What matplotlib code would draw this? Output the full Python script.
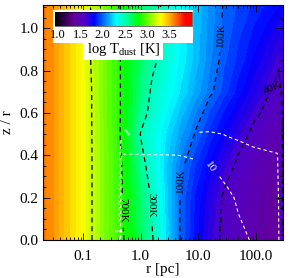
import numpy as np
import matplotlib.pyplot as plt
from matplotlib.colors import LinearSegmentedColormap, Normalize
from matplotlib.patches import Polygon
from matplotlib.ticker import AutoMinorLocator
import matplotlib.cm as cm

plt.rcParams['font.family'] = ['Liberation Serif', 'DejaVu Serif']
plt.rcParams['mathtext.fontset'] = 'custom'
plt.rcParams['mathtext.rm'] = 'Liberation Serif'
plt.rcParams['mathtext.it'] = 'Liberation Serif:italic'

# dust temperature, log10 T [K]
log_r = np.array([-1.7, -1.3, -0.9, -0.6, -0.3, 0.0, 0.2, 0.45, 0.7, 0.95,
                  1.2, 1.45, 1.7, 1.95, 2.2, 2.4, 2.48])
z_over_r = np.array([0.0, 0.2, 0.35, 0.5, 0.6, 0.7, 0.85, 1.11])
log_T = np.array([
    [3.62, 3.42, 3.20, 3.02, 2.85, 2.63, 2.49, 2.23, 1.98, 1.82, 1.66, 1.57, 1.51, 1.45, 1.40, 1.35, 1.64],
    [3.62, 3.42, 3.20, 3.02, 2.83, 2.61, 2.45, 2.21, 1.98, 1.84, 1.70, 1.58, 1.52, 1.47, 1.41, 1.36, 1.64],
    [3.62, 3.42, 3.20, 3.02, 2.82, 2.54, 2.38, 2.20, 2.02, 1.90, 1.78, 1.66, 1.57, 1.51, 1.45, 1.40, 1.64],
    [3.62, 3.42, 3.20, 3.01, 2.79, 2.47, 2.37, 2.24, 2.11, 1.99, 1.88, 1.77, 1.66, 1.57, 1.50, 1.45, 1.64],
    [3.62, 3.42, 3.20, 3.00, 2.80, 2.54, 2.42, 2.29, 2.17, 2.05, 1.94, 1.84, 1.74, 1.64, 1.56, 1.50, 1.64],
    [3.62, 3.42, 3.20, 3.00, 2.80, 2.58, 2.45, 2.34, 2.24, 2.13, 2.02, 1.92, 1.82, 1.72, 1.62, 1.56, 1.64],
    [3.62, 3.42, 3.19, 3.00, 2.80, 2.63, 2.51, 2.39, 2.28, 2.17, 2.06, 1.96, 1.88, 1.79, 1.71, 1.62, 1.66],
    [3.62, 3.42, 3.19, 2.99, 2.80, 2.64, 2.54, 2.42, 2.31, 2.19, 2.08, 1.99, 1.94, 1.89, 1.84, 1.80, 1.78],
])
T_levels = [40, 100, 300, 700, 1500]
T_labels = {40: '40K', 100: '100K', 300: '300K', 700: '700K', 1500: ''}

# second quantity (white dashed), log10 values
log_r_tau = np.array([-1.7, -0.42, -0.33, 0.5, 1.2, 1.5, 1.7, 1.95, 2.38, 2.48])
z_tau = np.array([0.0, 0.2, 0.4, 0.5, 0.6, 1.11])
log_tau = np.array([
    [-2, -2, 2.00, 1.90, 1.70, 1.50, 1.25, 0.90, 0.60, -2],
    [-2, -2, 1.80, 1.60, 1.40, 1.20, 0.85, 0.60, 0.40, -2],
    [-2, -2, 1.05, 1.02, 0.85, 0.45, 0.35, 0.20, 0.05, -2],
    [-2, -2, 0.10, 0.05, 0.12, -0.05, -0.15, -0.30, -0.50, -2],
    [-2, -2, -1.0, -1.0, -0.9, -1.0, -1.0, -1.0, -1.1, -2],
    [-2, -2, -2.0, -2.0, -2.0, -2.0, -2.0, -2.0, -2.0, -2],
])
tau_levels = [1, 10]

cbar_ticks = [1.0, 1.5, 2.0, 2.5, 3.0, 3.5]

# colour table: black-purple-blue-cyan-green-yellow-red
vmin, vmax = 0.93, 4.0
cnodes = [(0.93, (0, 0, 0)), (1.35, (0.40, 0, 0.60)), (1.6, (0.30, 0, 0.80)),
          (1.8, (0, 0, 1)), (2.05, (0, 0.5, 1)), (2.3, (0, 1, 1)),
          (2.55, (0, 1, 0.6)), (2.8, (0, 1, 0)), (3.1, (0.6, 1, 0)),
          (3.3, (1, 1, 0)), (3.55, (1, 0.6, 0)), (3.85, (1, 0, 0)), (4.0, (1, 0, 0))]
cmap = LinearSegmentedColormap.from_list(
    'idl', [((v - vmin) / (vmax - vmin), c) for v, c in cnodes])
norm = Normalize(vmin, vmax)

fig = plt.figure(figsize=(2.94, 2.78), dpi=100)
ax = fig.add_axes([43 / 294, 1 - 240 / 278, 240 / 294, 235 / 278])

R, Z = np.meshgrid(10 ** log_r, z_over_r)
ax.contourf(R, Z, log_T, levels=np.arange(0.95, 4.01, 0.05), cmap=cmap,
            norm=norm, extend='both')
cs = ax.contour(R, Z, log_T, levels=np.log10(T_levels), colors='k',
                linewidths=0.9, linestyles=[(0, (4, 3))])
fmt = {np.log10(t): T_labels[t] for t in T_levels}
ax.clabel(cs, fmt=fmt, fontsize=8, inline=True,
          manual=[(0.58, 0.14), (1.64, 0.165), (4.3, 0.28), (22, 0.97),
                  (200, 0.71), (285, 0.06)])

Rt, Zt = np.meshgrid(10 ** log_r_tau, z_tau)
ws = ax.contour(Rt, Zt, log_tau, levels=np.log10(tau_levels), colors='white',
                linewidths=0.8, linestyles=[(0, (3, 2.5))])
ax.clabel(ws, fmt={0.0: '1', 1.0: '10'}, fontsize=8, inline=True,
          manual=[(3.0, 0.53), (14.8, 0.34), (0.40, 0.05)])

ax.set_xscale('log')
ax.set_xlim(0.02, 300)
ax.set_ylim(0, 1.11)
ax.set_xticks([0.1, 1, 10, 100])
ax.set_xticklabels(['0.1', '1.0', '10.0', '100.0'])
ax.set_yticks([0.0, 0.2, 0.4, 0.6, 0.8, 1.0])
ax.set_yticklabels(['0.0', '0.2', '0.4', '0.6', '0.8', '1.0'])
ax.yaxis.set_minor_locator(AutoMinorLocator(4))
ax.tick_params(which='both', direction='in', top=True, right=True,
               labelsize=11, width=0.6)
ax.tick_params(which='major', length=5)
ax.tick_params(which='minor', length=2.5)
ax.tick_params(axis='x', pad=7)
ax.tick_params(axis='y', pad=3)
ax.set_xlabel('r [pc]', fontsize=11, labelpad=0)
ax.set_ylabel('z / r', fontsize=11, labelpad=4)

# white backing for the colour bar
box = [(53, 10), (193, 10), (193, 43), (163, 43), (163, 60), (83, 60), (83, 43), (53, 43)]
fig.add_artist(Polygon([(x / 294, 1 - y / 278) for x, y in box], closed=True,
                       transform=fig.transFigure, facecolor='white',
                       edgecolor='none', zorder=2))

cax = fig.add_axes([55 / 294, 1 - 26 / 278, 137 / 294, 14 / 278])
cax.set_zorder(3)
sm = cm.ScalarMappable(norm=norm, cmap=cmap)
cb = fig.colorbar(sm, cax=cax, orientation='horizontal')
cb.set_ticks(cbar_ticks)
cb.set_ticklabels(['%.1f' % t for t in cbar_ticks])
cb.ax.tick_params(labelsize=9, length=0, pad=2)
cb.outline.set_linewidth(0.4)
cb.set_label('log T$_{\\rm dust}$ [K]', fontsize=10.5, labelpad=0)

fig.savefig('out.png', dpi=100)
